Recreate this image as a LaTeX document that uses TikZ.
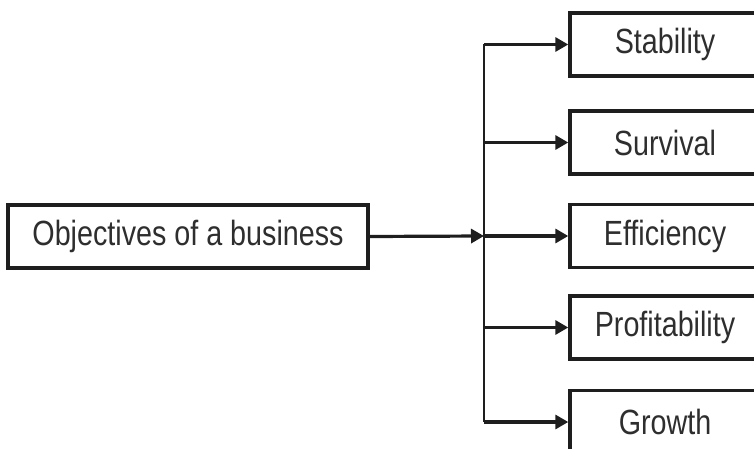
\documentclass[tikz,border=0pt]{standalone}
\usepackage{fontspec}
\setmainfont[FakeStretch=0.82]{Liberation Sans}
\usetikzlibrary{arrows.meta}
\definecolor{ink}{HTML}{1E1E1E}
\definecolor{txt}{HTML}{2E2E2E}
\begin{document}
\begin{tikzpicture}[x=1pt,y=-1pt,
  box/.style={draw=ink, line width=3.4pt, fill=white, inner sep=0pt, text=txt,
    font=\fontsize{35}{40}\selectfont, anchor=center},
  leftbox/.style={box, minimum width=360pt, minimum height=63pt},
  rbox/.style={box, minimum width=190pt, minimum height=63pt},
  conn/.style={draw=ink, line width=3.2pt, -{Triangle[length=13pt,width=14pt]}},
  trunk/.style={draw=ink, line width=2.4pt}]
\useasboundingbox (0,0) rectangle (754,449);
\clip (0,0) rectangle (754,449);
\node[leftbox] (obj) at (188,236.5) {Objectives of a business};
\node[rbox] (s1) at (665,44.5) {Stability};
\node[rbox] (s2) at (665,142.5) {Survival};
\node[rbox] (s3) at (665,236) {Efficiency};
\node[rbox] (s4) at (665,327.5) {Profitability};
\node[rbox] (s5) at (665,422) {Growth};
\coordinate (b1) at (484,44.5);
\coordinate (b2) at (484,142.5);
\coordinate (b3) at (484,236);
\coordinate (b4) at (484,327.5);
\coordinate (b5) at (484,422);
\draw[trunk] (b1) -- (b5);
\draw[conn] (obj.east) -- (b3);
\draw[conn] (b1) -- (s1.west);
\draw[conn] (b2) -- (s2.west);
\draw[conn] (b3) -- (s3.west);
\draw[conn] (b4) -- (s4.west);
\draw[conn] (b5) -- (s5.west);
\end{tikzpicture}
\end{document}
